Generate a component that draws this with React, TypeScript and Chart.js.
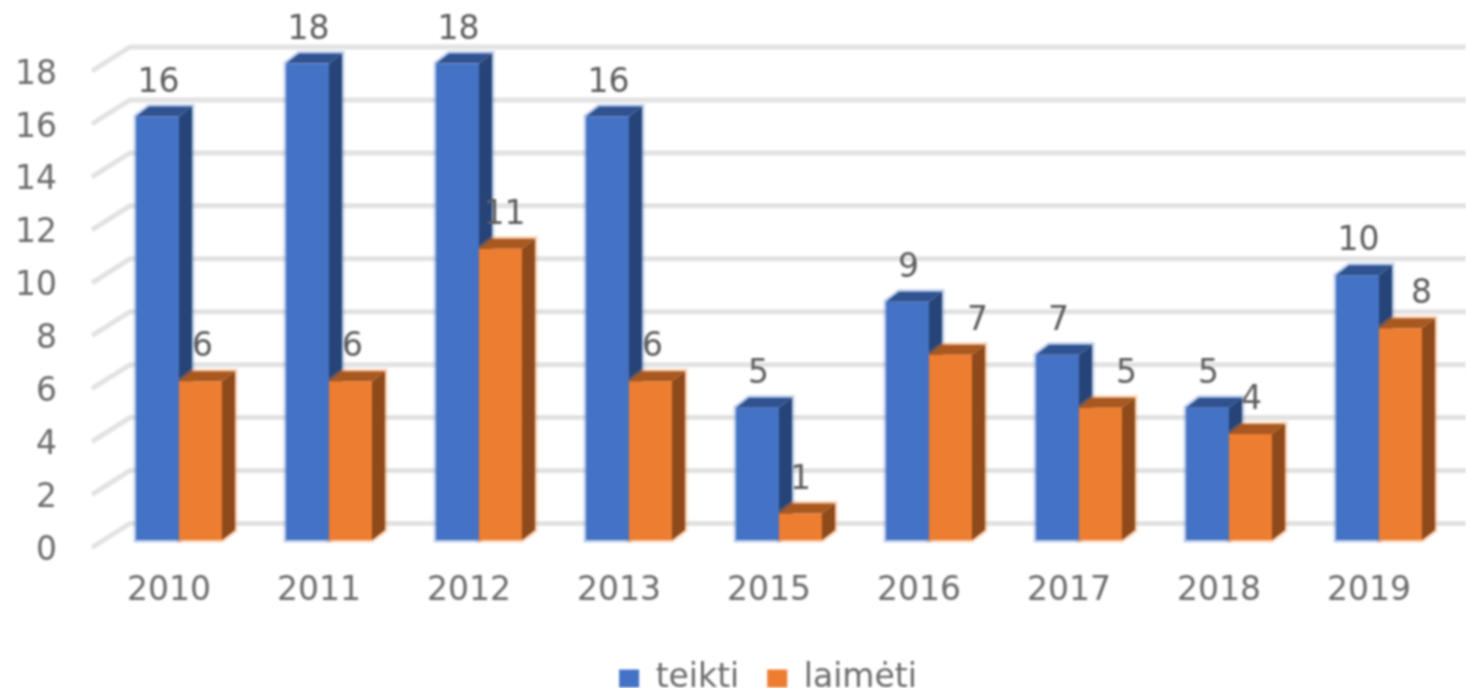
import React, { useEffect, useRef } from "react";
import { Chart, registerables } from "chart.js";

Chart.register(...registerables);

const categories = ["2010", "2011", "2012", "2013", "2015", "2016", "2017", "2018", "2019"];
const teikti = [16, 18, 18, 16, 5, 9, 7, 5, 10];
const laimeti = [6, 6, 11, 6, 1, 7, 5, 4, 8];
const yTicks = [0, 2, 4, 6, 8, 10, 12, 14, 16, 18];

const FONT = "'DejaVu Sans'";
const TEXT = "#6b6b6b";
const DEPTH_X = 13;
const DEPTH_Y = 10;
const HALO = ["rgba(68,114,196,0.35)", "rgba(237,125,49,0.35)"];
const SIDE = ["#264478", "#8f4a1b"];
const TOP = ["#2f5290", "#a9581f"];
// sideways nudges of the value labels of the second series, as placed in the source chart
const orangeLabelNudge = [1, 1, 3, 1, -1, 26, 25, 0, 20];

const threeD = {
  id: "threeD",
  afterLayout(chart: any) {
    const lg = chart.legend;
    if (lg) {
      const dx = 41;
      lg.left += dx;
      lg.right += dx;
      lg.top = 634;
      lg.bottom = 634 + lg.height;
    }
  },
  beforeDatasetsDraw(chart: any) {
    const { ctx } = chart;
    const y = chart.scales.y;
    ctx.save();
    ctx.strokeStyle = "#e2e2e2";
    ctx.lineWidth = 5;
    yTicks.forEach((v) => {
      const py = y.getPixelForValue(v) - 16.5;
      ctx.beginPath();
      ctx.moveTo(92, py + 24);
      ctx.lineTo(130, py);
      ctx.lineTo(1466, py);
      ctx.stroke();
    });
    [0, 1].forEach((di) => {
      const meta = chart.getDatasetMeta(di);
      meta.data.forEach((bar: any) => {
        const p = bar.getProps(["x", "y", "base", "width"], true);
        const l = p.x - p.width / 2;
        const r = p.x + p.width / 2;
        ctx.strokeStyle = HALO[di];
        ctx.lineWidth = 5;
        ctx.beginPath();
        ctx.moveTo(l, p.base);
        ctx.lineTo(l, p.y);
        ctx.lineTo(l + DEPTH_X, p.y - DEPTH_Y);
        ctx.lineTo(r + DEPTH_X, p.y - DEPTH_Y);
        ctx.lineTo(r + DEPTH_X, p.base - DEPTH_Y);
        ctx.lineTo(r, p.base);
        ctx.closePath();
        ctx.stroke();
        ctx.fillStyle = SIDE[di];
        ctx.beginPath();
        ctx.moveTo(r, p.y);
        ctx.lineTo(r + DEPTH_X, p.y - DEPTH_Y);
        ctx.lineTo(r + DEPTH_X, p.base - DEPTH_Y);
        ctx.lineTo(r, p.base);
        ctx.closePath();
        ctx.fill();
        ctx.fillStyle = TOP[di];
        ctx.beginPath();
        ctx.moveTo(l, p.y);
        ctx.lineTo(l + DEPTH_X, p.y - DEPTH_Y);
        ctx.lineTo(r + DEPTH_X, p.y - DEPTH_Y);
        ctx.lineTo(r, p.y);
        ctx.closePath();
        ctx.fill();
      });
    });
    ctx.restore();
  },
  afterDatasetsDraw(chart: any) {
    const { ctx } = chart;
    ctx.save();
    ctx.font = `33px ${FONT}`;
    ctx.fillStyle = "#5c5c5c";
    ctx.textAlign = "center";
    ctx.textBaseline = "middle";
    chart.data.datasets.forEach((ds: any, di: number) => {
      chart.getDatasetMeta(di).data.forEach((bar: any, i: number) => {
        const p = bar.getProps(["x", "y"], true);
        const dx = di === 1 ? orangeLabelNudge[i] : 0;
        ctx.fillText(String(ds.data[i]), p.x + dx + 1, p.y - 33.5);
      });
    });
    ctx.restore();
  },
};

export default function App() {
  const ref = useRef<HTMLCanvasElement>(null);
  useEffect(() => {
    const chart = new Chart(ref.current as HTMLCanvasElement, {
      type: "bar",
      data: {
        labels: categories,
        datasets: [
          { label: "teikti", data: teikti, backgroundColor: "#4472c4", borderWidth: 0 },
          { label: "laimėti", data: laimeti, backgroundColor: "#ed7d31", borderWidth: 0 },
        ],
      },
      options: {
        responsive: false,
        animation: false,
        layout: { padding: { top: 63.5, right: 12, left: 0, bottom: 0 } },
        datasets: { bar: { barPercentage: 1, categoryPercentage: 0.5733 } },
        scales: {
          x: {
            grid: { display: false },
            border: { display: false },
            ticks: {
              maxRotation: 0,
              padding: 24,
              labelOffset: -10,
              color: TEXT,
              font: { family: FONT, size: 33 },
            },
            afterFit: (s: any) => {
              s.height = 148 - (s.chart.legend?.height ?? 0);
            },
          },
          y: {
            min: 0,
            max: 18,
            grid: { display: false, drawTicks: false },
            border: { display: false },
            afterFit: (s: any) => {
              s.width = 104;
              s.paddingTop = 0;
              s.paddingBottom = 0;
            },
            afterBuildTicks: (s: any) => {
              s.ticks = yTicks.map((value) => ({ value }));
            },
            ticks: {
              padding: 47,
              labelOffset: 11.5,
              color: TEXT,
              font: { family: FONT, size: 33 },
            },
          },
        },
        plugins: {
          tooltip: { enabled: false },
          legend: {
            position: "bottom",
            labels: {
              boxWidth: 20,
              boxHeight: 18,
              padding: 28,
              color: TEXT,
              font: { family: FONT, size: 33 },
            },
          },
        },
      },
      plugins: [threeD],
    } as any);
    return () => chart.destroy();
  }, []);
  return (
    <div style={{ position: "fixed", left: 0, top: 0, width: 1466, height: 688, overflow: "hidden", background: "#fff" }}>
      <canvas ref={ref} width={1466} height={688} style={{ display: "block", filter: "blur(1px)" }} />
    </div>
  );
}
